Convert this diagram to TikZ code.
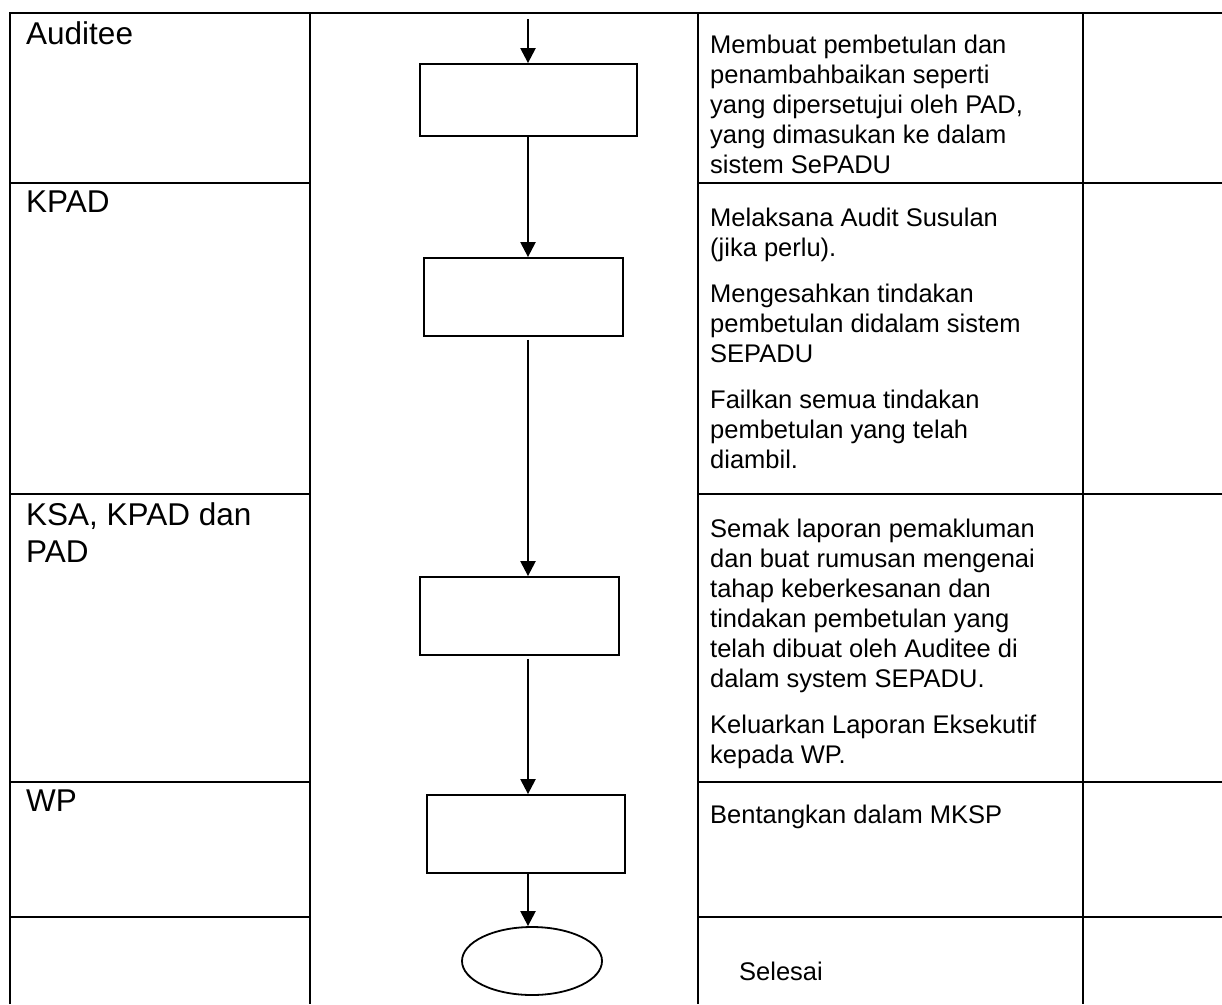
\documentclass[tikz,border=0pt]{standalone}
\usepackage{fontspec}
\setmainfont{Liberation Sans}
\usetikzlibrary{arrows.meta,shapes.geometric}

\tikzset{
	grid/.style={line width=2.6pt},
	stepbox/.style={draw,line width=1.8pt,inner sep=0pt},
	flow/.style={line width=2.3pt,-{Triangle[length=15pt,width=15pt]}},
	lane/.style={anchor=north west,inner sep=0pt,align=left,font=\fontsize{31.5}{37}\selectfont},
	task/.style={anchor=north west,inner sep=0pt,align=left,font=\fontsize{25.5}{30}\selectfont}
}

\begin{document}
\begin{tikzpicture}[x=1pt,y=-1pt]
		\useasboundingbox (0,0) rectangle (1222,1004);
		\draw[grid] (10,1004) -- (10,13) -- (1222,13);
		\foreach \x in {310,698,1083} \draw[grid] (\x,13) -- (\x,1004);
		\foreach \y in {183,494,782,917} {
			\draw[grid] (10,\y) -- (310,\y);
			\draw[grid] (698,\y) -- (1222,\y);
		}
		\node[lane] (lAud) at (26,21) {Auditee};
		\node[lane] (lKpad) at (26,191) {KPAD};
		\node[lane] (lKsa) at (26,502) {KSA, KPAD dan\\PAD};
		\node[lane] (lWp) at (26,790) {WP};
		\node[task] (tAud) at (710,34.5) {Membuat pembetulan dan\\penambahbaikan seperti\\yang dipersetujui oleh PAD,\\yang dimasukan ke dalam\\sistem SePADU};
		\node[task] (tKpad) at (710,207.5) {Melaksana Audit Susulan\\(jika perlu).\\[16pt]Mengesahkan tindakan\\pembetulan didalam sistem\\SEPADU\\[16pt]Failkan semua tindakan\\pembetulan yang telah\\diambil.};
		\node[task] (tKsa) at (710,518.5) {Semak laporan pemakluman\\dan buat rumusan mengenai\\tahap keberkesanan dan\\tindakan pembetulan yang\\telah dibuat oleh Auditee di\\dalam system SEPADU.\\[16pt]Keluarkan Laporan Eksekutif\\kepada WP.};
		\node[task] (tWp) at (710,804.5) {Bentangkan dalam MKSP};
		\node[task] (tEnd) at (739,961.5) {Selesai};
		\node[stepbox,minimum width=217pt,minimum height=72pt] (b1) at (528.5,100) {};
		\node[stepbox,minimum width=199pt,minimum height=78pt] (b2) at (523.5,297) {};
		\node[stepbox,minimum width=199pt,minimum height=78pt] (b3) at (519.5,616) {};
		\node[stepbox,minimum width=198pt,minimum height=78pt] (b4) at (526,834) {};
		\node[stepbox,ellipse,minimum width=140pt,minimum height=68pt] (fin) at (532,961) {};
		\coordinate (start) at (528,19);
		\draw[flow] (start) -- (b1.north -| start);
		\draw[flow] (b1.south -| start) -- (b2.north -| start);
		\draw[flow,shorten <=3pt] (b2.south -| start) -- (b3.north -| start);
		\draw[flow,shorten <=3pt] (b3.south -| start) -- (b4.north -| start);
		\draw[flow] (b4.south -| start) -- (fin.north -| start);
	\end{tikzpicture}
\end{document}
